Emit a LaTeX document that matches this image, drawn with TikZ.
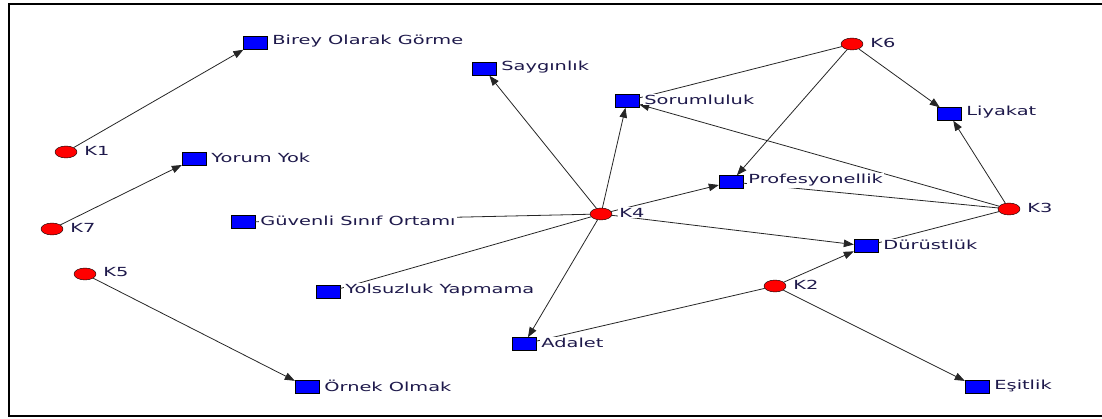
\documentclass[tikz,border=0pt]{standalone}
\usepackage{fontspec}
\setmainfont{DejaVu Sans}[FakeStretch=1.55]
\usepackage{tikz}
\usetikzlibrary{shapes}
\usetikzlibrary{arrows.meta}
\usetikzlibrary{positioning}
\definecolor{namecolor}{RGB}{30,25,75}
\tikzset{
  k node/.style={ellipse,draw,fill=red,minimum width=22pt,minimum height=12pt,inner sep=0pt},
  item node/.style={rectangle,draw,fill=blue,minimum width=24pt,minimum height=13pt,inner sep=0pt},
  name text/.style={fill=white,inner sep=1pt,text=namecolor,font=\fontsize{12.5}{13}\selectfont,yshift=1.5pt},
  tie/.style={draw=black!85,line width=0.8pt},
  arc/.style={tie,-{Triangle[length=10pt,width=7.5pt]}}
}

\begin{document}
\begin{tikzpicture}[x=1pt,y=-1pt]
  \useasboundingbox (0,0) rectangle (1102,419);
  \draw[line width=2pt] (1102,4) -- (9,4) -- (9,416) -- (1102,416);
  % actors
  \node [k node] (k1) at (66,152) {};
  \node [k node] (k7) at (52,229) {};
  \node [k node] (k5) at (85,274) {};
  \node [k node] (k4) at (601,214) {};
  \node [k node] (k6) at (852,44) {};
  \node [k node] (k3) at (1009,209) {};
  \node [k node] (k2) at (775,286) {};
  % values
  \node [item node] (birey) at (255,43) {};
  \node [item node] (yorum) at (194,159) {};
  \node [item node] (guvenli) at (243,222) {};
  \node [item node] (yolsuz) at (328,292) {};
  \node [item node] (ornek) at (307,387) {};
  \node [item node] (saygi) at (484,69) {};
  \node [item node] (sorum) at (627,101) {};
  \node [item node] (adalet) at (524,344) {};
  \node [item node] (liyakat) at (949,114) {};
  \node [item node] (profes) at (731,182) {};
  \node [item node] (durust) at (866,246) {};
  \node [item node] (esit) at (977,387) {};
  % ties
  \draw [arc] (k1) -- (birey);
  \draw [arc] (k7) -- (yorum);
  \draw [arc] (k5) -- (ornek);
  \draw [arc] (k4) -- (saygi);
  \draw [arc] (k4) -- (sorum);
  \draw [arc] (k4) -- (profes);
  \draw [arc] (k4) -- (durust);
  \draw [arc] (k4) -- (adalet);
  \draw [arc] (k6) -- (profes);
  \draw [arc] (k6) -- (liyakat);
  \draw [arc] (k3) -- (liyakat);
  \draw [arc] (k3) -- (sorum);
  \draw [arc] (k2) -- (durust);
  \draw [arc] (k2) -- (esit);
  \draw [tie] (guvenli) -- (k4);
  \draw [tie] (yolsuz) -- (k4);
  \draw [tie] (k6) -- (sorum);
  \draw [tie] (k3) -- (profes);
  \draw [tie] (k3) -- (durust);
  \draw [tie] (k2) -- (adalet);
  % names
  \node [name text,right=6pt of k1] (k1 t) {K1};
  \node [name text,right=6pt of k7] (k7 t) {K7};
  \node [name text,right=6pt of k5] (k5 t) {K5};
  \node [name text,right=6pt of k4] (k4 t) {K4};
  \node [name text,right=6pt of k6] (k6 t) {K6};
  \node [name text,right=6pt of k3] (k3 t) {K3};
  \node [name text,right=6pt of k2] (k2 t) {K2};
  \node [name text,right=4pt of birey] (birey t) {Birey Olarak Görme};
  \node [name text,right=4pt of yorum] (yorum t) {Yorum Yok};
  \node [name text,right=4pt of guvenli] (guvenli t) {Güvenli Sınıf Ortamı};
  \node [name text,right=4pt of yolsuz] (yolsuz t) {Yolsuzluk Yapmama};
  \node [name text,right=4pt of ornek] (ornek t) {Örnek Olmak};
  \node [name text,right=4pt of saygi] (saygi t) {Saygınlık};
  \node [name text,right=4pt of sorum] (sorum t) {Sorumluluk};
  \node [name text,right=4pt of adalet] (adalet t) {Adalet};
  \node [name text,right=4pt of liyakat] (liyakat t) {Liyakat};
  \node [name text,right=4pt of profes] (profes t) {Profesyonellik};
  \node [name text,right=4pt of durust] (durust t) {Dürüstlük};
  \node [name text,right=4pt of esit] (esit t) {Eşitlik};
\end{tikzpicture}
\end{document}
